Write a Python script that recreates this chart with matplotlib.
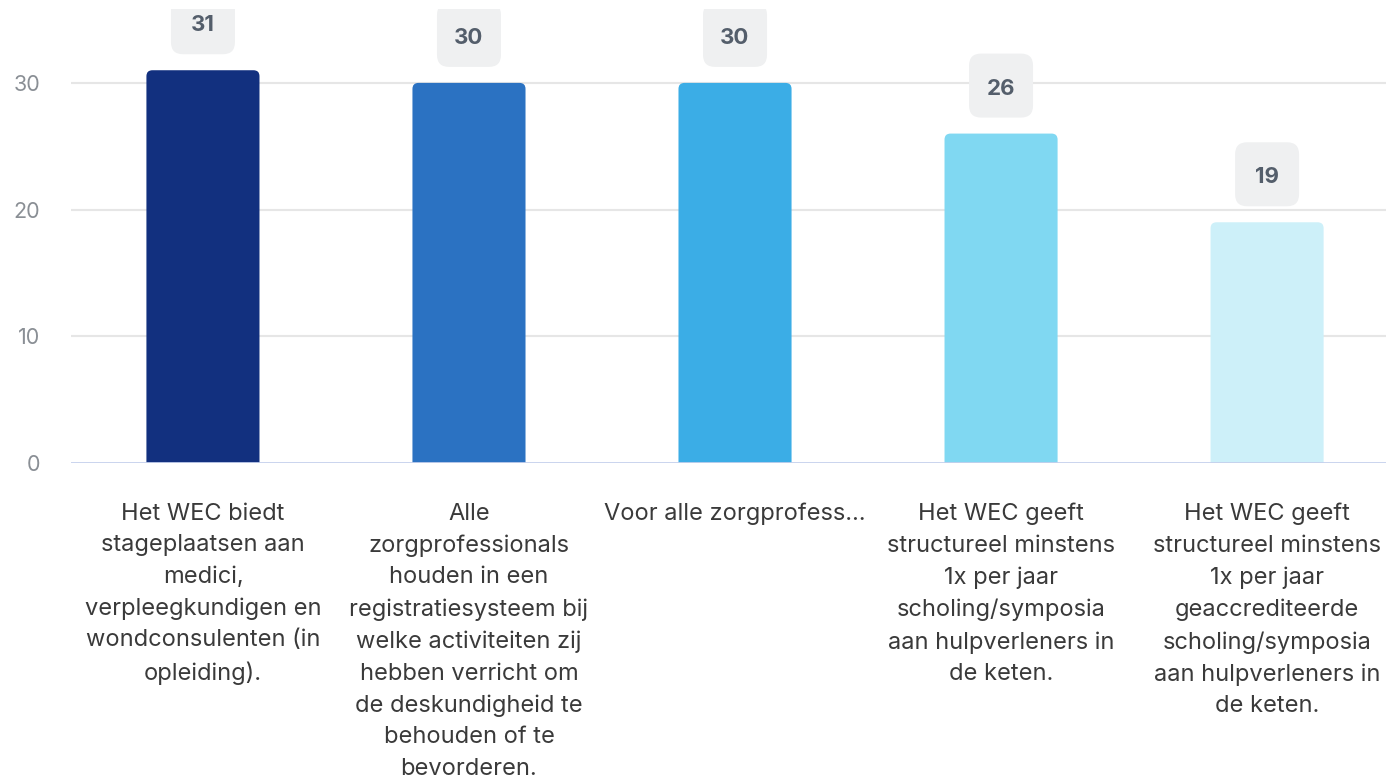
import matplotlib
matplotlib.use("Agg")
import matplotlib.pyplot as plt
from matplotlib.patches import FancyBboxPatch
from matplotlib.transforms import Affine2D, IdentityTransform

categories = [
    "Het WEC biedt\nstageplaatsen aan\nmedici,\nverpleegkundigen en\nwondconsulenten (in\nopleiding).",
    "Alle\nzorgprofessionals\nhouden in een\nregistratiesysteem bij\nwelke activiteiten zij\nhebben verricht om\nde deskundigheid te\nbehouden of te\nbevorderen.",
    "Voor alle zorgprofess…",
    "Het WEC geeft\nstructureel minstens\n1x per jaar\nscholing/symposia\naan hulpverleners in\nde keten.",
    "Het WEC geeft\nstructureel minstens\n1x per jaar\ngeaccrediteerde\nscholing/symposia\naan hulpverleners in\nde keten.",
]
values = [31, 30, 30, 26, 19]
colors = ["#12307F", "#2B72C2", "#3BADE6", "#80D8F2", "#CDF0F9"]
yticks = [0, 10, 20, 30]

plt.rcParams['font.family'] = ['Inter', 'DejaVu Sans']

fig = plt.figure(figsize=(13.86, 7.79), dpi=100)
ax = fig.add_axes([71/1386, 1-463/779, 1-71/1386, (463-9)/779])
x = list(range(len(values)))
bars = ax.bar(x, values, width=0.425, color=colors, zorder=3)
ax.set_xlim(-0.496, 4.447)
ax.set_ylim(0, (463-9)/12.67)

ax.set_yticks(yticks)
ax.set_yticklabels([str(t) for t in yticks], fontsize=15.5, color="#8A8F95")
ax.tick_params(axis='y', length=0, pad=22)
ax.set_xticks(x)
ax.set_xticklabels(categories, fontsize=17, color="#3A3A3A", linespacing=1.56, ha='center', va='top')
ax.tick_params(axis='x', length=0, pad=28.5)

for s in ax.spines.values():
    s.set_visible(False)
for t in yticks[1:]:
    ax.axhline(t, color="#E6E6E6", lw=1.5, zorder=1)
ax.axhline(0, color="#C5D0EC", lw=2, zorder=4)

fig.canvas.draw()

# rounded top corners for the bars
for rect, c in zip(bars.patches, colors):
    (x0, y0), (x1, y1) = ax.transData.transform([(rect.get_x(), 0),
                                                  (rect.get_x() + rect.get_width(), rect.get_height())])
    r = 6
    fb = FancyBboxPatch((x0 + r, y0 - 20 + r), (x1 - x0) - 2*r, (y1 - y0 + 20) - 2*r,
                        boxstyle=f"round,pad={r},rounding_size={r}",
                        facecolor=c, edgecolor="none",
                        transform=IdentityTransform(), zorder=3)
    fb.set_clip_path(ax.patch)
    ax.add_artist(fb)
    rect.set_visible(False)

for xi, v in zip(x, values):
    px, py = ax.transData.transform((xi, v))
    w, h = 64, 64
    gap = 16
    tr = Affine2D().translate(px, py)
    box = FancyBboxPatch((-w/2 + 10, gap + 10), w - 20, h - 20,
                         boxstyle="round,pad=10,rounding_size=12",
                         facecolor="#EFF0F1", edgecolor="none",
                         transform=tr, zorder=5)
    box.set_clip_path(ax.patch)
    ax.add_artist(box)
    ax.annotate(str(v), xy=(xi, v), xytext=(0, (gap + h/2 - 1) * 0.72),
                textcoords='offset points', ha='center', va='center_baseline',
                fontsize=16, fontweight='bold', color="#545E6B", zorder=6,
                annotation_clip=False)

fig.savefig("out.png", dpi=100)
